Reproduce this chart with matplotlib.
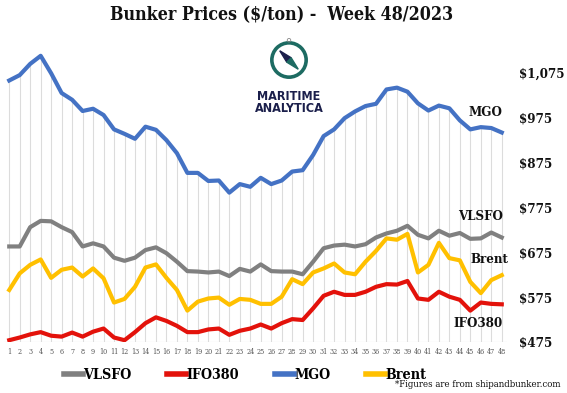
import matplotlib.pyplot as plt
from matplotlib.patches import Circle, Polygon

weeks = list(range(1, 49))

mgo = [1058, 1070, 1095, 1113, 1074, 1030, 1015, 990, 995, 981,
       949, 939, 928, 955, 948, 925, 896, 852, 852, 834,
       835, 808, 827, 821, 841, 827, 835, 855, 858, 892,
       934, 949, 974, 989, 1001, 1006, 1038, 1042, 1033, 1007,
       991, 1002, 996, 969, 949, 954, 952, 942]

vlsfo = [688, 688, 731, 745, 744, 731, 720, 688, 695, 688,
         663, 656, 663, 680, 686, 673, 654, 633, 632, 630,
         632, 622, 638, 632, 648, 633, 632, 632, 626, 654,
         684, 690, 692, 688, 693, 708, 717, 723, 734, 714,
         706, 723, 712, 718, 705, 706, 719, 708]

brent = [591, 628, 647, 659, 618, 636, 641, 621, 639, 617,
         563, 571, 598, 641, 648, 618, 591, 545, 565, 572,
         574, 558, 571, 569, 560, 560, 576, 615, 604, 630,
         639, 650, 630, 626, 654, 678, 706, 703, 716, 630,
         647, 696, 662, 657, 609, 584, 613, 624]

ifo380 = [479, 485, 492, 497, 489, 487, 496, 487, 498, 505,
          485, 479, 497, 517, 530, 522, 511, 497, 497, 503,
          505, 491, 500, 505, 514, 505, 517, 526, 524, 550,
          578, 587, 580, 580, 587, 598, 604, 603, 611, 572,
          569, 587, 576, 569, 545, 563, 560, 559]

y_ticks = [475, 575, 675, 775, 875, 975, 1075]
y_labels = ['$475', '$575', '$675', '$775', '$875', '$975', '$1,075']

c_vlsfo = '#808080'
c_ifo = '#e3120b'
c_mgo = '#4472c4'
c_brent = '#ffc000'

serif = 'DejaVu Serif'
cond = 'condensed'

fig = plt.figure(figsize=(5.67, 3.93), dpi=100)
ax = fig.add_axes([4 / 567, 51 / 393, 503 / 567, 314 / 393])

# drop lines from the top series down to the axis
ax.vlines(weeks, 475, mgo, color='#dcdcdc', linewidth=0.8, zorder=1)
ax.axhline(475, color='#d9d9d9', linewidth=0.8, zorder=1)

lw = 3.0
ax.plot(weeks, vlsfo, color=c_vlsfo, linewidth=lw, label='VLSFO', zorder=3)
ax.plot(weeks, ifo380, color=c_ifo, linewidth=lw, label='IFO380', zorder=3)
ax.plot(weeks, mgo, color=c_mgo, linewidth=lw, label='MGO', zorder=3)
ax.plot(weeks, brent, color=c_brent, linewidth=lw, label='Brent', zorder=3)

ax.set_xlim(0.5, 48.5)
ax.set_ylim(475, 1175)

for s in ax.spines.values():
    s.set_visible(False)

ax.set_xticks(weeks)
ax.set_xticklabels([str(w) for w in weeks], fontsize=5.2, family=serif,
                   fontstretch=cond, color='#555555')
ax.tick_params(axis='x', length=0, pad=4)

ax.yaxis.tick_right()
ax.set_yticks(y_ticks)
ax.set_yticklabels(y_labels, fontsize=9.5, family=serif, fontstretch=cond,
                   fontweight='bold', color='#111111')
ax.tick_params(axis='y', length=0, pad=9)

# series labels at the right end
lab = dict(fontsize=9.5, family=serif, fontstretch=cond, fontweight='bold',
           color='#111111', ha='right', va='center')
ax.text(48.1, 986, 'MGO', **lab)
ax.text(48.1, 754, 'VLSFO', **lab)
ax.text(48.6, 658, 'Brent', **lab)
ax.text(48.1, 517, 'IFO380', **lab)

fig.text(0.497, 0.962, 'Bunker Prices ($/ton) -  Week 48/2023', ha='center', va='center',
         fontsize=12.8, family=serif, fontstretch=cond, fontweight='bold', color='#111111')

leg = fig.legend(loc='center', bbox_to_anchor=(0.432, 0.046), ncol=4, frameon=False,
                 handlelength=1.35, handletextpad=0.0, columnspacing=2.5,
                 prop={'family': serif, 'stretch': cond, 'weight': 'bold', 'size': 10.3})
for line in leg.get_lines():
    line.set_linewidth(4)

fig.text(0.988, 0.01, '*Figures are from shipandbunker.com', ha='right', va='bottom',
         fontsize=6.9, family=serif, fontstretch=cond, color='#111111')

# logo
teal = '#1d6b62'
navy = '#1b1f4b'
lx, ly = 289 / 567, 1 - 60 / 393
logo = fig.add_axes([lx - 22 / 567, ly - 22 / 393, 44 / 567, 44 / 393])
logo.set_xlim(-1, 1)
logo.set_ylim(-1, 1)
logo.set_aspect('equal')
logo.axis('off')
logo.add_patch(Circle((0, 0), 0.78, fill=False, edgecolor=teal, linewidth=2.6))
logo.add_patch(Circle((0, 0.9), 0.08, fill=False, edgecolor='#888888', linewidth=0.6))
logo.add_patch(Polygon([[-0.42, 0.42], [0.1, 0.1], [-0.1, -0.1]], closed=True, color=navy))
logo.add_patch(Polygon([[0.42, -0.42], [0.1, 0.1], [-0.1, -0.1]], closed=True, color=teal))
fig.text(lx, 1 - 96 / 393, 'MARITIME', ha='center', va='center', fontsize=9,
         family='DejaVu Sans', fontstretch=cond, fontweight='bold', color=navy)
fig.text(lx, 1 - 109 / 393, 'ANALYTICA', ha='center', va='center', fontsize=9,
         family='DejaVu Sans', fontstretch=cond, fontweight='bold', color=navy)

fig.savefig('out.png', dpi=100, facecolor='white')
